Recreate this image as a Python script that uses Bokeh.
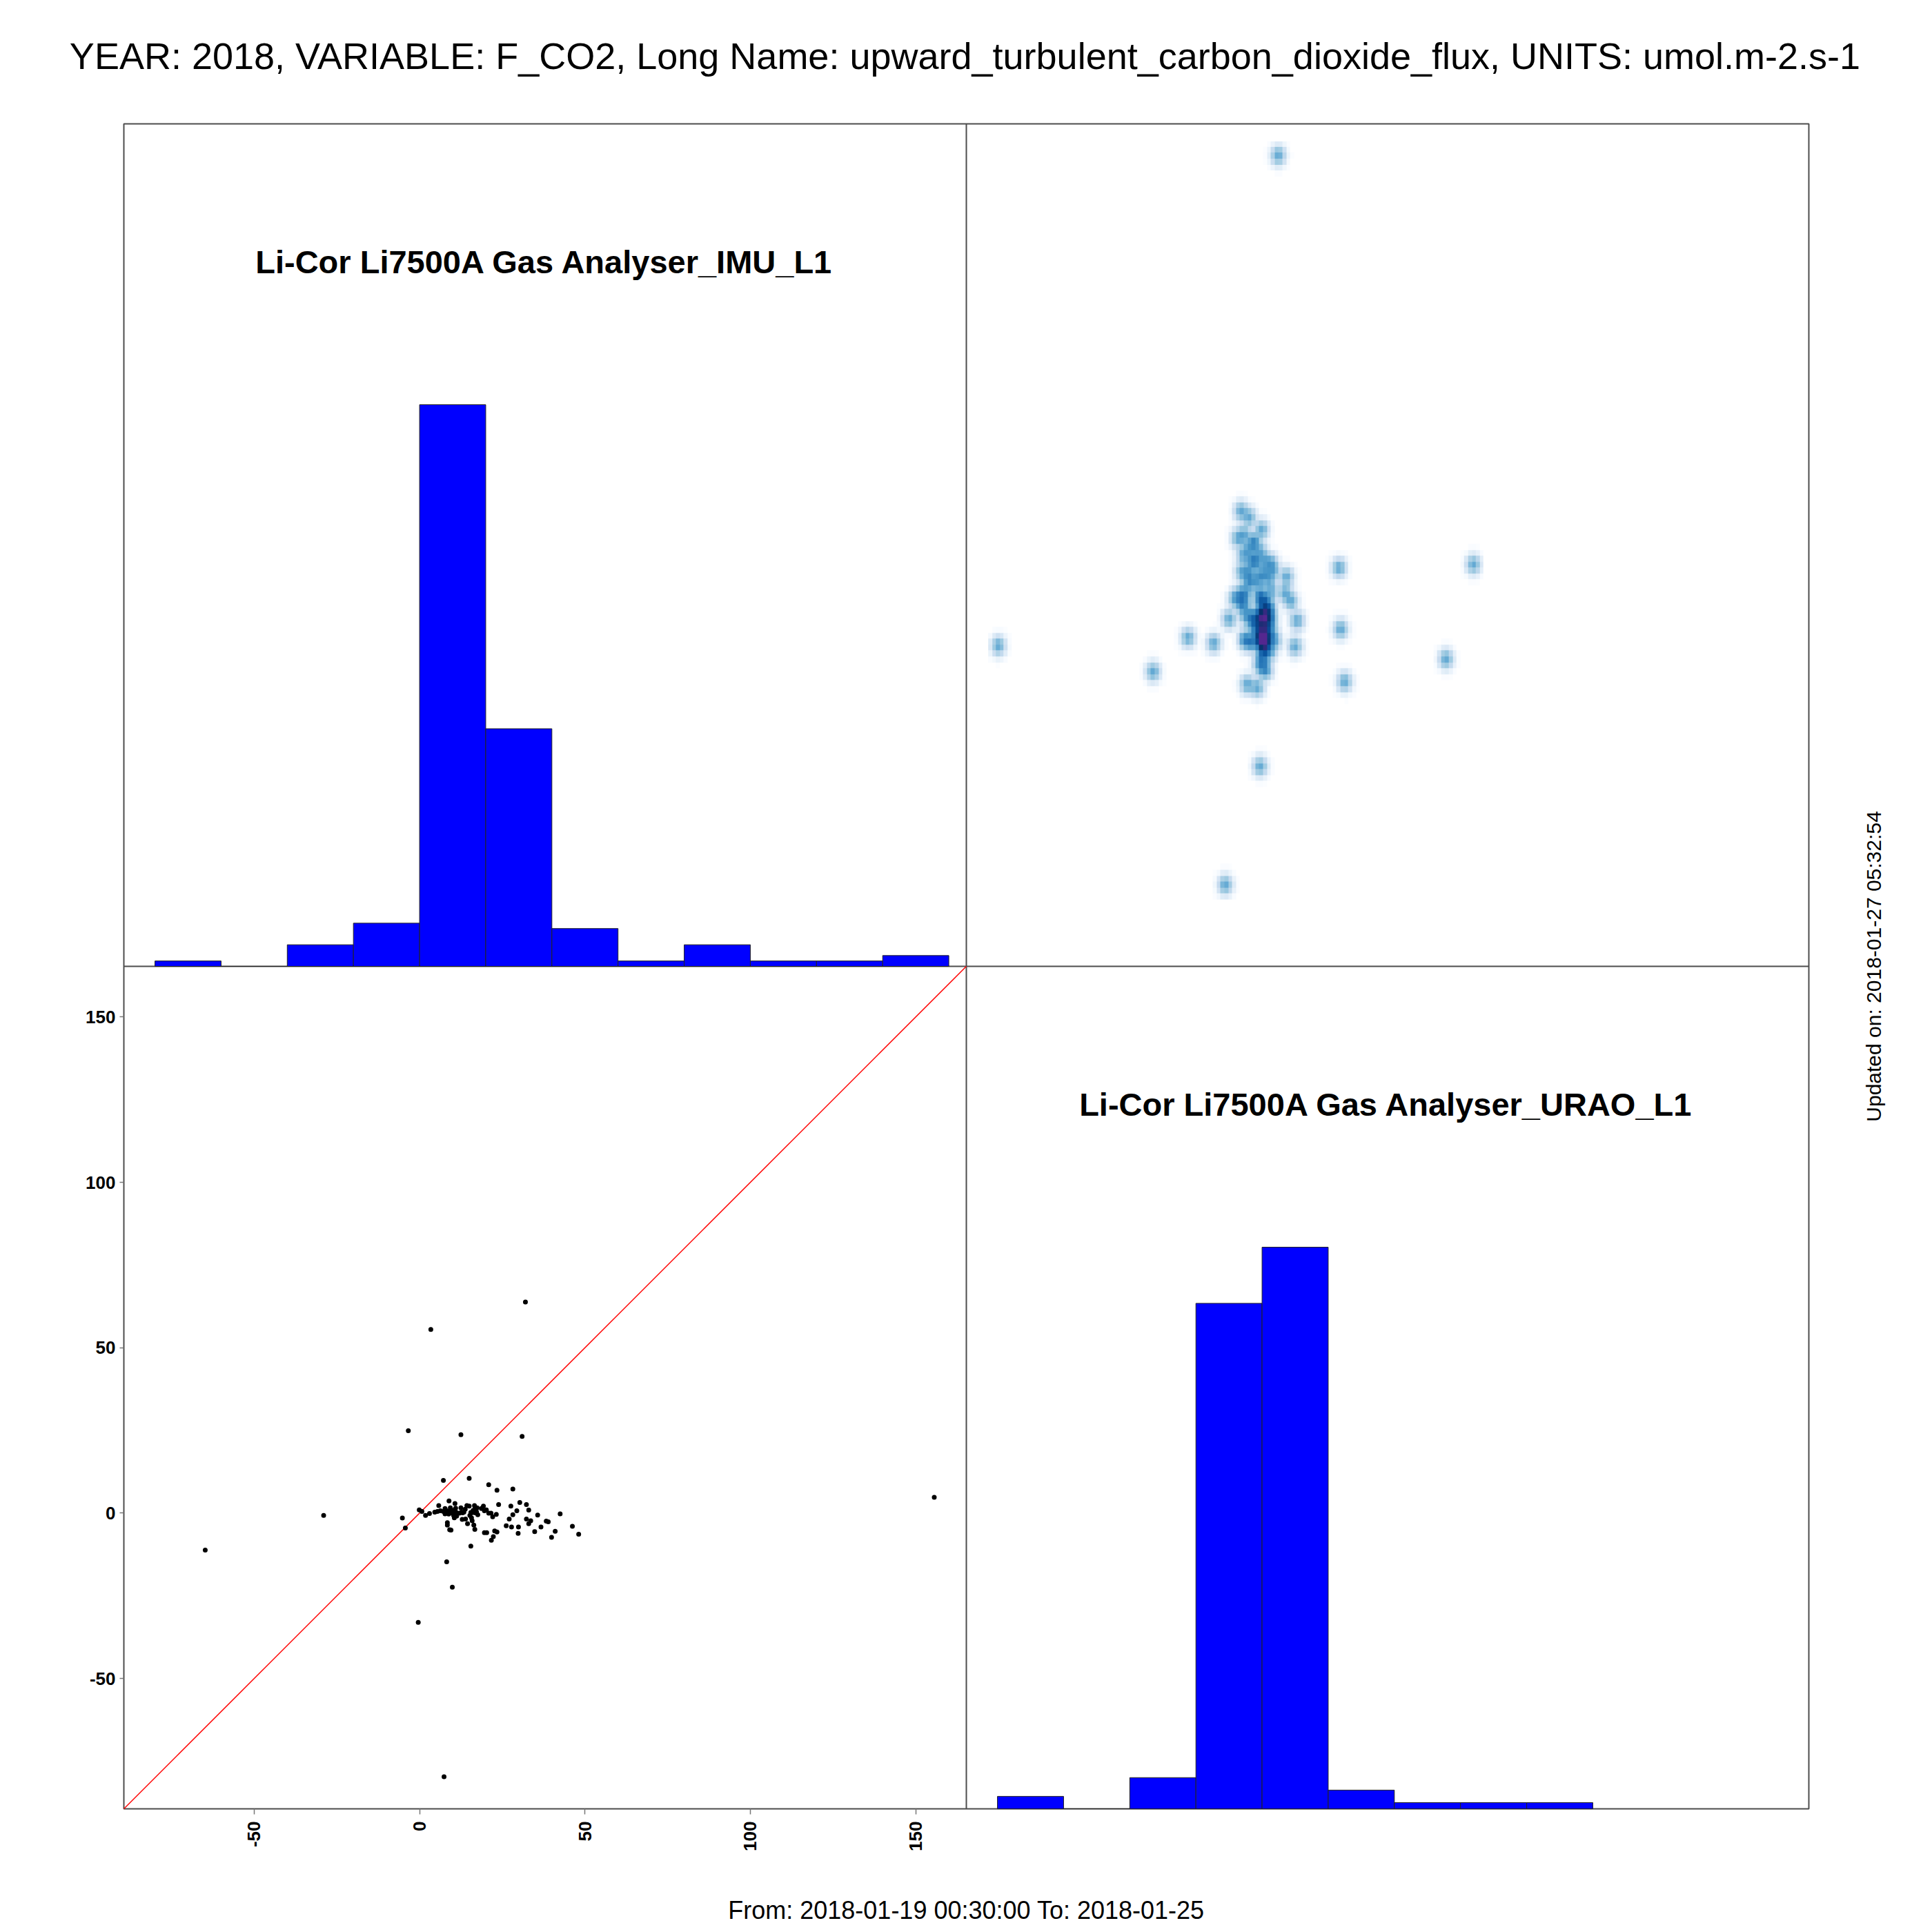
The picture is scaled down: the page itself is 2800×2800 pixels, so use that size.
import numpy as np
from bokeh.plotting import figure
from bokeh.models import FixedTicker, Label, LinearColorMapper, Range1d
from bokeh.embed import file_html
from bokeh.resources import INLINE

# values
axis_limits = [-89.4, 165.3]
tick_values = [-50, 0, 50, 100, 150]
tick_labels = {-50: "-50", 0: "0", 50: "50", 100: "100", 150: "150"}

bin_edges = [-80, -60, -40, -20, 0, 20, 40, 60, 80, 100, 120, 140, 160]
imu_counts = [1, 0, 4, 8, 104, 44, 7, 1, 4, 1, 1, 2]
urao_counts = [2, 0, 5, 81, 90, 3, 1, 1, 1]

imu_flux = [
    -3.4, 12.5, 31.0, 7.2, 15.0, 20.9, 23.4, 28.2, 8.9, 10.7, 5.8, 23.9, 30.3, 32.3, 27.6,
    -0.1, 0.7, 3.0, 1.8, 4.6, -5.2, -4.3, 5.4, 6.3, 7.2, 7.7, 8.2, 7.7, 8.6, 9.3, 10.2,
    10.9, 11.0, 10.0, 10.3, 10.5, 11.2, 12.5, 12.7, 13.4, 13.8, 14.3, 15.0, 16.6, 16.8,
    17.4, 16.2, 15.7, 15.2, 15.7, 17.6, 18.7, 19.3, 19.6, 20.2, 20.9, 21.6, 22.1, 23.2,
    12.9, 13.9, 14.5, 15.9, 16.4, 16.7, 8.4, 8.4, 9.1, 9.5, 19.6, 20.3, 22.7, 23.4, 22.3,
    21.7, 15.5, 26.2, 27.8, 29.9, 29.8, 27.1, 28.2, 29.4, 33.0, 35.7, 32.3, 33.6, 33.0,
    36.7, 34.8, 38.3, 38.9, 42.5, 46.2, 48.1, 41.0, 39.9, 32.0, 3.4, -29.0, -64.8, 155.6,
    7.4, -0.4, 9.9, 8.2, 8.5, 9.0, 9.2, 9.5, 10.0, 9.1, 8.8, 16.5, 16.9, 16.0, 17.2, 15.5,
    13.0, 12.0,
]
urao_flux = [
    24.9, 23.7, 23.2, 9.9, 10.5, 8.6, 6.9, 7.3, 3.7, 2.9, 2.3, 2.6, 3.2, 2.6, 2.1,
    1.0, 0.5, -0.1, -0.7, 0.3, -1.5, -4.5, 0.5, 0.7, 0.5, 1.4, 0.7, -0.2, 0.3, 1.6, 0.8,
    1.5, 0.3, 0.0, -0.7, -1.4, -0.9, 1.6, 0.3, 0.3, 1.2, 2.3, 2.1, 2.3, 1.7,
    1.6, 0.8, 0.1, -0.7, -1.4, -0.5, 1.4, 2.1, 0.7, 1.0, 0.0, 0.0, -1.1, -0.4,
    -1.9, -1.8, -3.2, -2.3, -3.6, -4.9, -2.9, -3.6, -5.0, -5.1, -5.9, -5.9, -5.4, -5.7, -7.1,
    -8.2, -10.0, -3.8, -4.2, -4.2, -6.1, -1.8, -0.5, 0.7, 0.9, -0.6, -1.8, -2.3, -3.2,
    -4.2, -5.6, -2.4, -2.6, -0.2, -4.0, -6.4, -5.5, -7.3, 63.8, 55.5, -0.7, -11.2, 4.8,
    -79.7, -33.0, -22.4, -14.7, 0.2, 0.0, 0.3, 0.2, 0.1, 0.6, -0.3, 0.2, 0.1, 0.3, 0.4, 0.2,
    0.1, 0.0,
]

TITLE = "YEAR: 2018, VARIABLE: F_CO2, Long Name: upward_turbulent_carbon_dioxide_flux, UNITS: umol.m-2.s-1"
NAME_IMU = "Li-Cor Li7500A Gas Analyser_IMU_L1"
NAME_URAO = "Li-Cor Li7500A Gas Analyser_URAO_L1"
PERIOD = "From: 2018-01-19 00:30:00 To: 2018-01-25"
UPDATED = "Updated on: 2018-01-27 05:32:54"

FONT = "Liberation Sans"
LINE = "#4d4d4d"
SIZE = 2784
LEFT = 179       # left and top edge of the panels, in page pixels
PANEL = 1221     # width of one panel
IMU_TOP = 156    # count at the top of each histogram panel
URAO_TOP = 135

low, high = axis_limits
span = high - low


def panel_range(size, start, top, gap_after):
    # range over the whole canvas with start..top on one panel, gap_after pixels beyond it
    scale = PANEL / (top - start)
    return start - (size - gap_after - PANEL) / scale, top + gap_after / scale


# the frame is the whole canvas so the texts around the panels are not lost
p = figure(width=SIZE, height=SIZE, output_backend="svg", toolbar_location=None, tools="",
           min_border=0, min_border_left=0, min_border_right=0, min_border_top=0, min_border_bottom=0,
           x_range=panel_range(SIZE, low, high, SIZE - LEFT - PANEL),
           y_range=panel_range(SIZE, low, high, LEFT + PANEL))
p.extra_x_ranges["right"] = Range1d(*panel_range(SIZE, low, high, SIZE - LEFT - 2 * PANEL))
p.extra_y_ranges["top"] = Range1d(*panel_range(SIZE, low, high, LEFT))
p.extra_y_ranges["imu_hist"] = Range1d(*panel_range(SIZE, 0, IMU_TOP, LEFT))
p.extra_y_ranges["urao_hist"] = Range1d(*panel_range(SIZE, 0, URAO_TOP, LEFT + PANEL))

p.grid.visible = False
p.outline_line_color = None
p.background_fill_color = "white"
p.border_fill_color = "white"

for axis, orientation, standoff, tick_out in ((p.xaxis[0], np.pi / 2, 10, 8), (p.yaxis[0], "horizontal", 6, 6)):
    axis.fixed_location = low
    axis.bounds = (low, high)
    axis.axis_label = None
    axis.ticker = FixedTicker(ticks=tick_values)
    axis.major_label_overrides = tick_labels
    axis.major_label_orientation = orientation
    axis.major_label_text_font = FONT
    axis.major_label_text_font_style = "bold"
    axis.major_label_text_font_size = "26px"
    axis.major_label_text_color = "black"
    axis.major_label_standoff = standoff
    axis.axis_line_color = None
    axis.major_tick_line_color = "#777777"
    axis.major_tick_line_width = 1.5
    axis.major_tick_in = 0
    axis.major_tick_out = tick_out
    axis.minor_tick_line_color = None

# panel box and the cross in it
p.quad(left=low, right=high + span, bottom=low, top=high + span, fill_color=None,
       line_color=LINE, line_width=2)
p.segment([high, low], [low, high], [high, low + 2 * span], [low + 2 * span, high],
          line_color=LINE, line_width=2)

# histograms
p.quad(left=bin_edges[:-1], right=bin_edges[1:], bottom=0, top=imu_counts,
       y_range_name="imu_hist", fill_color="#0000ff", line_color="#222222", line_width=1)
p.quad(left=bin_edges[:9], right=bin_edges[1:10], bottom=0, top=urao_counts,
       x_range_name="right", y_range_name="urao_hist",
       fill_color="#0000ff", line_color="#222222", line_width=1)

# smoothed scatter, same points with the axes swapped
nbin = 128
cell_x = np.linspace(min(urao_flux) - 2.5, max(urao_flux) + 2.5, nbin)
cell_y = np.linspace(min(imu_flux) - 3.5, max(imu_flux) + 3.5, nbin)
step_x = cell_x[1] - cell_x[0]
step_y = cell_y[1] - cell_y[0]
grid_x, grid_y = np.meshgrid(cell_x, cell_y)
density = np.zeros_like(grid_x)
for a, b in zip(urao_flux, imu_flux):
    density += np.exp(-0.5 * (((grid_x - a) / (0.9 * step_x)) ** 2 + ((grid_y - b) / (0.8 * step_y)) ** 2))
shade = density ** 0.3
shade[shade < 0.08] = 0

anchors = ["#ffffff", "#f7fbff", "#deebf7", "#c6dbef", "#9ecae1", "#6baed6", "#4292c6",
           "#2171b5", "#08519c", "#08306b", "#54278f"]
rgb = np.array([[int(c[i:i + 2], 16) for i in (1, 3, 5)] for c in anchors], dtype=float)
where = np.linspace(0, len(anchors) - 1, 256)
palette = ["#%02x%02x%02x" % tuple(int(np.interp(t, range(len(anchors)), rgb[:, i])) for i in range(3))
           for t in where]
mapper = LinearColorMapper(palette=palette, low=0, high=0.92 * shade.max())
p.image(image=[shade], x=cell_x[0] - step_x / 2, y=cell_y[0] - step_y / 2,
        dw=step_x * nbin, dh=step_y * nbin, color_mapper=mapper,
        x_range_name="right", y_range_name="top")

# scatter panel
p.line(axis_limits, axis_limits, line_color="#ff0000", line_width=1.5)
p.scatter(imu_flux, urao_flux, size=7, fill_color="black", line_color="black", line_width=0)


def add_text(text, x, y, size, style="normal", angle=0):
    p.add_layout(Label(x=x, y=SIZE - y, x_units="screen", y_units="screen", text=text, angle=angle,
                       text_font=FONT, text_font_size=size, text_font_style=style,
                       text_align="center", text_baseline="middle", text_color="black"))


add_text(TITLE, 1398, 80, "54px")
add_text(NAME_IMU, 789, 379, "47px", "bold")
add_text(NAME_URAO, 2009, 1600, "47px", "bold")
add_text(PERIOD, 1400, 2768, "36px")
add_text(UPDATED, 2715, 1400, "30px", angle=np.pi / 2)

open("out.html", "w").write(file_html(p, INLINE))
